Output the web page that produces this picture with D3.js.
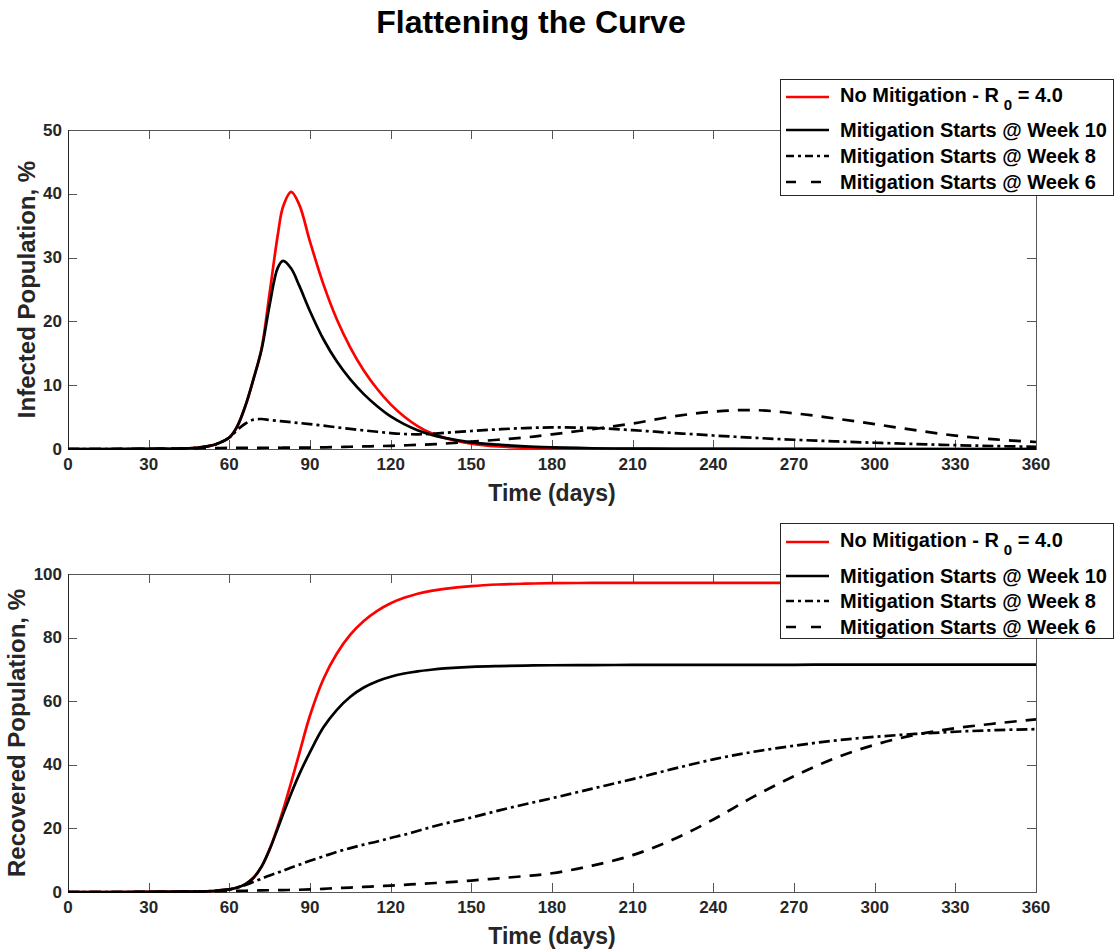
<!DOCTYPE html>
<html>
<head>
<meta charset="utf-8">
<script src="https://cdn.jsdelivr.net/npm/d3@7"></script>
<style>
  html, body { margin: 0; padding: 0; background: #fff; }
  svg { display: block; font-family: "Liberation Sans", Arial, Helvetica, sans-serif; font-weight: bold; }
</style>
</head>
<body>
<svg id="chart" width="1117" height="951"></svg>
<script>
// Simulation output sampled on a common day grid (values in % of population)
const dayGrid = [0, 30, 45, 50, 55, 60, 63, 66, 69, 72, 75, 78, 80, 83, 86, 90, 95, 100, 105, 110,
  115, 120, 125, 130, 135, 140, 150, 160, 170, 180, 195, 210, 225, 240, 255, 270, 285, 300, 315, 330, 345, 360];

// Infected population
const infNoMitigation = [0, 0.01, 0.12, 0.3, 0.75, 1.8, 3.6, 6.8, 11.0, 15.8, 24.5, 33.5, 38.0, 40.3, 38.3, 32.5,
  25.8, 20.3, 15.9, 12.3, 9.4, 7.0, 5.1, 3.6, 2.5, 1.75, 0.85, 0.4, 0.2, 0.1, 0.04, 0.02, 0.01, 0.01, 0, 0, 0, 0, 0, 0, 0, 0];
const infWeek10 = [0, 0.01, 0.12, 0.3, 0.75, 1.8, 3.6, 6.8, 11.0, 15.6, 22.6, 28.4, 29.5, 28.3, 25.6, 21.6,
  17.2, 13.7, 10.9, 8.6, 6.7, 5.1, 3.9, 2.95, 2.25, 1.75, 1.05, 0.68, 0.42, 0.27, 0.12, 0.06, 0.03, 0.02, 0.01, 0.01, 0, 0, 0, 0, 0, 0];
const infWeek8 = [0, 0.01, 0.12, 0.3, 0.75, 1.8, 3.0, 4.0, 4.6, 4.7, 4.55, 4.42, 4.33, 4.2, 4.07, 3.9,
  3.65, 3.4, 3.15, 2.92, 2.7, 2.5, 2.35, 2.3, 2.38, 2.52, 2.82, 3.08, 3.28, 3.38, 3.3, 2.95, 2.52, 2.12, 1.76, 1.45, 1.2, 0.98, 0.78, 0.6, 0.46, 0.35];
const infWeek6 = [0, 0.02, 0.1, 0.12, 0.15, 0.17, 0.18, 0.18, 0.19, 0.19, 0.2, 0.2, 0.2, 0.21, 0.22, 0.23,
  0.26, 0.3, 0.35, 0.4, 0.45, 0.5, 0.57, 0.65, 0.73, 0.85, 1.15, 1.45, 1.8, 2.3, 3.1, 4.0, 5.1, 5.85, 6.1, 5.6, 4.8, 3.9, 2.95, 2.1, 1.5, 1.1];

// Recovered population
const recNoMitigation = [0, 0.02, 0.1, 0.2, 0.4, 0.8, 1.4, 2.5, 4.5, 8.0, 13.5, 20.5, 25.8, 34.5, 43.5, 55.5,
  67.0, 75.0, 80.9, 85.2, 88.4, 90.8, 92.5, 93.8, 94.7, 95.35, 96.2, 96.7, 96.95, 97.1, 97.2, 97.2, 97.2, 97.2, 97.2, 97.2, 97.2, 97.2, 97.2, 97.2, 97.2, 97.2];
const recWeek10 = [0, 0.02, 0.1, 0.2, 0.4, 0.8, 1.4, 2.5, 4.5, 8.0, 13.4, 20.0, 24.5, 31.0, 37.0, 44.0,
  51.8, 57.3, 61.4, 64.3, 66.3, 67.7, 68.7, 69.4, 69.9, 70.3, 70.8, 71.05, 71.2, 71.3, 71.35, 71.4, 71.4, 71.4, 71.45, 71.45, 71.5, 71.5, 71.5, 71.5, 71.5, 71.5];
const recWeek8 = [0, 0.02, 0.1, 0.2, 0.4, 0.8, 1.4, 2.2, 3.2, 4.2, 5.2, 6.1, 6.7, 7.7, 8.6, 9.8,
  11.2, 12.6, 13.8, 14.9, 15.9, 17.0, 18.0, 19.2, 20.4, 21.5, 23.4, 25.6, 27.6, 29.5, 32.5, 35.5, 38.7, 41.7, 44.1, 46.0, 47.6, 48.8, 49.7, 50.4, 50.9, 51.2];
const recWeek6 = [0, 0.01, 0.05, 0.1, 0.2, 0.3, 0.35, 0.4, 0.45, 0.5, 0.55, 0.6, 0.6, 0.65, 0.7, 0.8,
  1.0, 1.25, 1.4, 1.6, 1.8, 2.0, 2.25, 2.5, 2.75, 3.0, 3.6, 4.3, 5.0, 5.9, 8.3, 11.6, 16.5, 22.8, 30.0, 36.4, 42.0, 46.3, 49.4, 51.5, 53.0, 54.3];

// Ticks and labels
const dayTicks = [0, 30, 60, 90, 120, 150, 180, 210, 240, 270, 300, 330, 360];
const infTicks = [0, 10, 20, 30, 40, 50];
const recTicks = [0, 20, 40, 60, 80, 100];
const seriesNames = ["No Mitigation - R", "Mitigation Starts @ Week 10", "Mitigation Starts @ Week 8", "Mitigation Starts @ Week 6"];
const chartTitle = "Flattening the Curve";
const xTitle = "Time (days)";
const infTitle = "Infected Population, %";
const recTitle = "Recovered Population, %";

// Line styles for the four scenarios
const styles = [
  { color: "#ff0000", dash: null, legendDash: null },
  { color: "#000000", dash: null, legendDash: null },
  { color: "#000000", dash: "11,4,3,4", legendDash: "8,4,3,4" },
  { color: "#000000", dash: "12,9", legendDash: "10,15" }
];

const svg = d3.select("#chart");
svg.append("rect").attr("width", 1117).attr("height", 951).attr("fill", "#fff");

svg.append("text")
  .attr("x", 531).attr("y", 22)
  .attr("text-anchor", "middle").attr("dominant-baseline", "central")
  .attr("font-size", 32).attr("fill", "#000")
  .text(chartTitle);

const axisColor = "#262626";
const tickColor = "#555";

function drawPanel(opts) {
  const { top, bottom, left, right, yMax, yTicks, yTitle, yTitleX, series, legend, id } = opts;
  const x = d3.scaleLinear().domain([0, 360]).range([left, right]);
  const y = d3.scaleLinear().domain([0, yMax]).range([bottom, top]);
  const g = svg.append("g");

  // frame (box on)
  g.append("rect")
    .attr("x", left + 0.5).attr("y", top + 0.5)
    .attr("width", right - left).attr("height", bottom - top)
    .attr("fill", "none").attr("stroke", tickColor).attr("stroke-width", 1);

  // inward ticks on all four sides
  const tl = 9;
  dayTicks.forEach(d => {
    const px = Math.round(x(d)) + 0.5;
    g.append("line").attr("x1", px).attr("x2", px).attr("y1", bottom).attr("y2", bottom - tl).attr("stroke", tickColor);
    g.append("line").attr("x1", px).attr("x2", px).attr("y1", top).attr("y2", top + tl).attr("stroke", tickColor);
    g.append("text").attr("x", x(d)).attr("y", bottom + 15)
      .attr("text-anchor", "middle").attr("dominant-baseline", "central")
      .attr("font-size", 17).attr("fill", axisColor).text(d);
  });
  yTicks.forEach(v => {
    const py = Math.round(y(v)) + 0.5;
    g.append("line").attr("x1", left).attr("x2", left + tl).attr("y1", py).attr("y2", py).attr("stroke", tickColor);
    g.append("line").attr("x1", right).attr("x2", right - tl).attr("y1", py).attr("y2", py).attr("stroke", tickColor);
    g.append("text").attr("x", left - 6).attr("y", y(v))
      .attr("text-anchor", "end").attr("dominant-baseline", "central")
      .attr("font-size", 17).attr("fill", axisColor).text(v);
  });
  // left axis line drawn darker
  g.append("line").attr("x1", left + 0.5).attr("x2", left + 0.5).attr("y1", top).attr("y2", bottom + 1)
    .attr("stroke", axisColor);

  // axis titles
  g.append("text").attr("x", (left + right) / 2).attr("y", bottom + 44)
    .attr("text-anchor", "middle").attr("dominant-baseline", "central")
    .attr("font-size", 23).attr("fill", axisColor).text(xTitle);
  g.append("text")
    .attr("transform", `translate(${yTitleX},${(top + bottom) / 2}) rotate(-90)`)
    .attr("text-anchor", "middle").attr("dominant-baseline", "central")
    .attr("font-size", 24).attr("fill", axisColor).text(yTitle);

  // curves
  svg.append("clipPath").attr("id", "clip" + id)
    .append("rect").attr("x", left).attr("y", top - 2).attr("width", right - left + 1).attr("height", bottom - top + 3);
  const line = d3.line().x((d, i) => x(dayGrid[i])).y(d => y(d)).curve(d3.curveCatmullRom.alpha(0.5));
  const lg = svg.append("g").attr("clip-path", `url(#clip${id})`);
  series.forEach((vals, k) => {
    lg.append("path").datum(vals)
      .attr("d", line)
      .attr("fill", "none")
      .attr("stroke", styles[k].color)
      .attr("stroke-width", 2.7)
      .attr("stroke-linejoin", "round")
      .attr("stroke-dasharray", styles[k].dash);
  });

  // legend
  const L = legend;
  const lgd = svg.append("g");
  lgd.append("rect").attr("x", L.x + 0.5).attr("y", L.y + 0.5).attr("width", L.w).attr("height", L.h)
    .attr("fill", "#fff").attr("stroke", axisColor).attr("stroke-width", 1);
  seriesNames.forEach((name, k) => {
    const ry = L.rows[k];
    lgd.append("line").attr("x1", L.x + 6).attr("x2", L.x + 49)
      .attr("y1", ry + (k === 0 ? 2 : 0)).attr("y2", ry + (k === 0 ? 2 : 0))
      .attr("stroke", styles[k].color).attr("stroke-width", 2.7)
      .attr("stroke-dasharray", styles[k].legendDash);
    const t = lgd.append("text").attr("x", L.x + 60).attr("y", ry)
      .attr("dominant-baseline", "central").attr("font-size", 20).attr("fill", "#000");
    if (k === 0) {
      t.append("tspan").text(name);
      t.append("tspan").attr("dx", 5).attr("dy", 9).attr("font-size", 15).text("0");
      t.append("tspan").attr("dy", -9).text(" = 4.0");
    } else {
      t.text(name);
    }
  });
}

drawPanel({
  id: "Inf", top: 130, bottom: 449, left: 68, right: 1036, yMax: 50, yTicks: infTicks,
  yTitle: infTitle, yTitleX: 26,
  series: [infNoMitigation, infWeek10, infWeek8, infWeek6],
  legend: { x: 780, y: 79, w: 333, h: 116, rows: [95, 130, 156, 182] }
});

drawPanel({
  id: "Rec", top: 574, bottom: 892, left: 68, right: 1036, yMax: 100, yTicks: recTicks,
  yTitle: recTitle, yTitleX: 16,
  series: [recNoMitigation, recWeek10, recWeek8, recWeek6],
  legend: { x: 780, y: 523, w: 333, h: 115, rows: [540, 576, 601, 627] }
});
</script>
</body>
</html>
